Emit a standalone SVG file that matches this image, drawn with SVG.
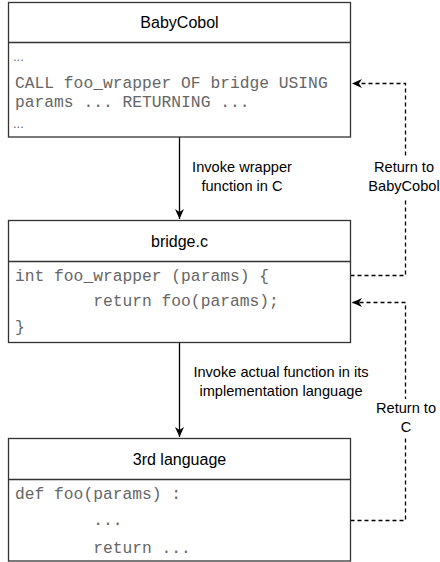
<svg xmlns="http://www.w3.org/2000/svg" width="440" height="562" viewBox="0 0 440 562">
<style>
.box{fill:#fff;stroke:#333;stroke-width:1.3}
.div{stroke:#333;stroke-width:1.3;fill:none}
.hdr{font-family:"Liberation Sans",Arial,sans-serif;font-size:16px;fill:#000;text-anchor:middle}
.code{font-family:"Liberation Mono","Courier New",monospace;font-size:16.3px;fill:#666;white-space:pre}
.dots{font-family:"Liberation Sans",Arial,sans-serif;font-size:13px;fill:#666}
.lbl{font-family:"Liberation Sans",Arial,sans-serif;font-size:14.6px;fill:#000;text-anchor:middle}
.solid{stroke:#000;stroke-width:1.3;fill:none}
.dash{stroke:#000;stroke-width:1.3;fill:none;stroke-dasharray:4 3}
</style>
<defs>
<marker id="arr" markerUnits="userSpaceOnUse" markerWidth="12" markerHeight="10" refX="10" refY="5" orient="auto">
<path d="M0,0.5 L10,5 L0,9.5 L3,5 Z" fill="#000"/>
</marker>
</defs>
<g id="connectors">
<path class="solid" d="M179.5,137 V219" marker-end="url(#arr)"/>
<path class="solid" d="M179.5,343 V437" marker-end="url(#arr)"/>
<path class="dash" d="M350.5,275.5 H405.5 V83.5 H352" marker-end="url(#arr)"/>
<path class="dash" d="M350.5,520.5 H405.5 V302.5 H352" marker-end="url(#arr)"/>
<rect x="366" y="158" width="74" height="40" fill="#fff"/>
<rect x="368" y="399" width="72" height="39" fill="#fff"/>
<text class="lbl" x="242" y="172">Invoke wrapper</text>
<text class="lbl" x="242" y="191">function in C</text>
<text class="lbl" x="281" y="377">Invoke actual function in its</text>
<text class="lbl" x="281" y="396">implementation language</text>
<text class="lbl" x="404" y="172">Return to</text>
<text class="lbl" x="404" y="191">BabyCobol</text>
<text class="lbl" x="406" y="413">Return to</text>
<text class="lbl" x="406" y="432">C</text>
</g>
<g id="babycobol">
<rect class="box" x="8.5" y="2.5" width="342" height="134.5"/>
<line class="div" x1="8.5" y1="42.5" x2="350.5" y2="42.5"/>
<text class="hdr" x="179.5" y="28">BabyCobol</text>
<text class="dots" x="13" y="61">...</text>
<text class="code" x="15" y="88">CALL foo_wrapper OF bridge USING</text>
<text class="code" x="15" y="107">params ... RETURNING ...</text>
<text class="dots" x="13" y="128">...</text>
</g>
<g id="bridge">
<rect class="box" x="8.5" y="220.5" width="342" height="122"/>
<line class="div" x1="8.5" y1="261.5" x2="350.5" y2="261.5"/>
<text class="hdr" x="179.5" y="246.5">bridge.c</text>
<text class="code" x="15" y="281">int foo_wrapper (params) {</text>
<text class="code" x="15" y="306">        return foo(params);</text>
<text class="code" x="15" y="332">}</text>
</g>
<g id="third">
<rect class="box" x="8.5" y="438.5" width="342" height="122.5"/>
<line class="div" x1="8.5" y1="479.5" x2="350.5" y2="479.5"/>
<text class="hdr" x="179.5" y="464.5">3rd language</text>
<text class="code" x="15" y="499">def foo(params) :</text>
<text class="code" x="15" y="525">        ...</text>
<text class="code" x="15" y="553">        return ...</text>
</g>
</svg>
